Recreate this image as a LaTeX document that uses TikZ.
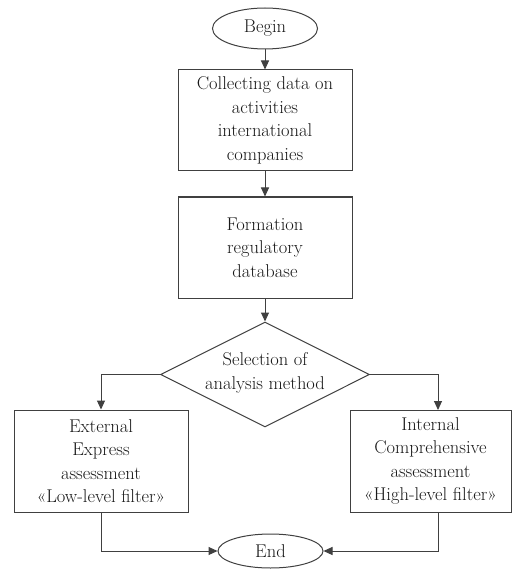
\documentclass[tikz,border=0pt]{standalone}
\usepackage{fontspec}
\usetikzlibrary{shapes.geometric,arrows.meta}
\begin{document}
\begin{tikzpicture}[x=1pt,y=1pt,
  every node/.style={font=\fontsize{18.5}{23.5}\selectfont, text=black!90, align=center, inner sep=0pt},
  box/.style={draw=black!75, line width=1pt, rectangle},
  term/.style={draw=black!75, line width=1pt, ellipse},
  dec/.style={draw=black!75, line width=1pt, diamond},
  link/.style={draw=black!75, line width=1pt, -{Triangle[length=9pt,width=8pt]}}
]
\useasboundingbox (0,0) rectangle (513,-569);
\fill[white] (0,0) rectangle (513,-569);
\node[term, minimum width=105, minimum height=41] (begin) at (265,-28.5) {Begin};
\node[box, minimum width=174, minimum height=101] (collect) at (265,-120.5) {Collecting data on\\activities\\international\\companies};
\node[box, minimum width=174, minimum height=101] (form) at (265,-247.5) {Formation\\regulatory\\database};
\node[dec, minimum width=209, minimum height=105] (sel) at (265,-374.5) {};
\node (seltext) at (265,-373) {Selection of\\analysis method};
\node[box, minimum width=174, minimum height=102] (ext) at (101,-461) {External\\Express\\assessment\\«Low-level filter»};
\node[box, minimum width=161, minimum height=102] (int) at (430.5,-461) {Internal\\Comprehensive\\assessment\\«High-level filter»};
\node[term, minimum width=105, minimum height=34] (end) at (270.5,-551) {End};
\coordinate (rc) at (438,-410);
\draw[link] (begin) -- (collect);
\draw[link] (collect) -- (form);
\draw[link] (form) -- (sel);
\draw[link] (sel.west) -| (ext.north);
\draw[link] (sel.east) -| (rc);
\draw[link] (ext.south) |- (end.west);
\draw[link] (rc |- int.south) |- (end.east);
\end{tikzpicture}
\end{document}
